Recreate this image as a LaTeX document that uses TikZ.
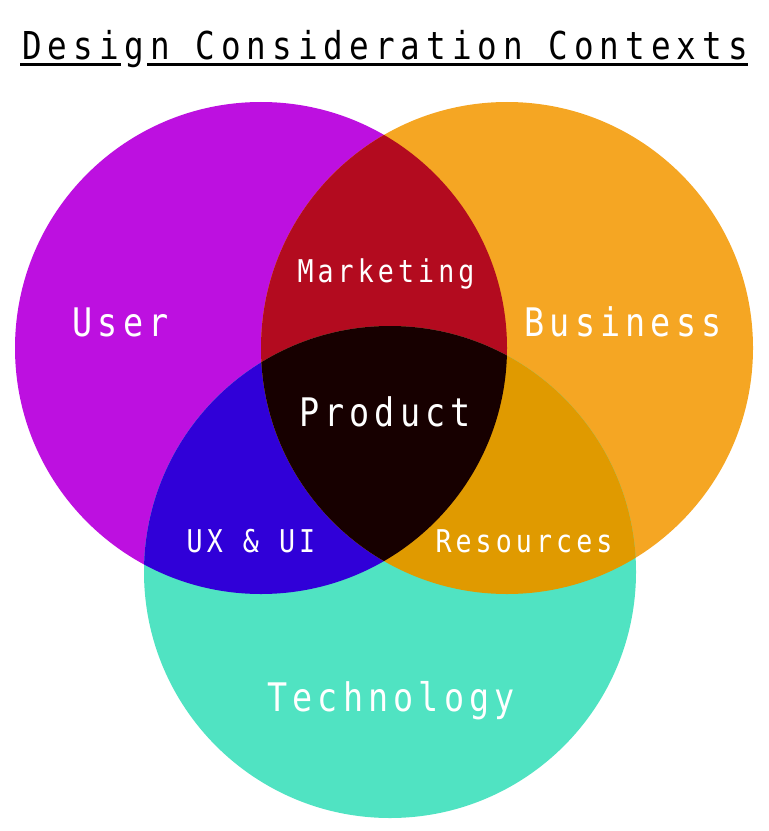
\documentclass[tikz,border=0pt]{standalone}
\usepackage{fontspec}
\newfontfamily\monotitle[FakeStretch=0.85,LetterSpace=15.6]{DejaVu Sans Mono}
\newfontfamily\monolabel[FakeStretch=0.85,LetterSpace=13]{DejaVu Sans Mono}
\definecolor{userc}{HTML}{BD10E0}
\definecolor{busc}{HTML}{F5A623}
\definecolor{techc}{HTML}{50E3C2}
\definecolor{ubc}{HTML}{B30B1F}
\definecolor{utc}{HTML}{3000D8}
\definecolor{btc}{HTML}{E09A00}
\definecolor{allc}{HTML}{170000}
\tikzset{
  biglabel/.style={text=white,font=\monolabel\fontsize{29.5pt}{30pt}\selectfont,anchor=base,inner sep=0pt},
  smalllabel/.style={text=white,font=\monolabel\fontsize{23.5pt}{24pt}\selectfont,anchor=base,inner sep=0pt},
  titlelabel/.style={text=black,font=\monotitle\fontsize{28.8pt}{29pt}\selectfont,anchor=base,inner sep=0pt},
  uline/.style={line width=2.3pt,black}
}
\begin{document}
\begin{tikzpicture}[x=0.75pt,y=-0.75pt]
\useasboundingbox (0,0) rectangle (768,831);
\coordinate (cu) at (261,348);
\coordinate (cb) at (507,348);
\coordinate (ct) at (390,572);
\def\rr{184.5pt}
% base circles
\fill[userc] (cu) circle[radius=\rr];
\fill[busc] (cb) circle[radius=\rr];
\fill[techc] (ct) circle[radius=\rr];
% pairwise intersections
\begin{scope}
  \clip (cu) circle[radius=\rr];
  \fill[ubc] (cb) circle[radius=\rr];
\end{scope}
\begin{scope}
  \clip (cu) circle[radius=\rr];
  \fill[utc] (ct) circle[radius=\rr];
\end{scope}
\begin{scope}
  \clip (cb) circle[radius=\rr];
  \fill[btc] (ct) circle[radius=\rr];
\end{scope}
\begin{scope}
  \clip (cu) circle[radius=\rr];
  \clip (cb) circle[radius=\rr];
  \fill[allc] (ct) circle[radius=\rr];
\end{scope}
% title
\node[titlelabel] (title) at (385,60) {Design Consideration Contexts};
\coordinate (ul1) at (20,64.5);
\coordinate (ul2) at (121,64.5);
\coordinate (ul3) at (147,64.5);
\coordinate (ul4) at (748,64.5);
\draw[uline] (ul1) -- (ul2);
\draw[uline] (ul3) -- (ul4);
% labels
\node[biglabel] (user) at (120.5,336) {User};
\node[biglabel] (business) at (623,336) {Business};
\node[smalllabel] (marketing) at (386,282) {Marketing};
\node[biglabel] (product) at (385,426) {Product};
\node[smalllabel] (uxui) at (251,552) {UX \& UI};
\node[smalllabel] (resources) at (524,552) {Resources};
\node[biglabel] (technology) at (391,711) {Technology};
\end{tikzpicture}
\end{document}
